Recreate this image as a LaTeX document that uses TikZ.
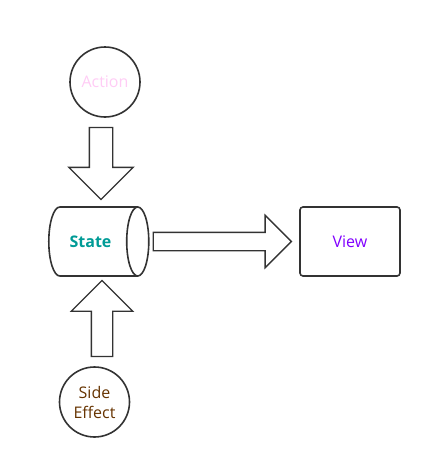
\documentclass[tikz,border=0pt]{standalone}
\usepackage{fontspec}
\setmainfont{Open Sans}
\usepackage{tikz}
\usetikzlibrary{calc,positioning,shapes.geometric,shapes.arrows}

\definecolor{linegray}{HTML}{333333}
\definecolor{actionpink}{HTML}{FFCCF5}
\definecolor{stateteal}{HTML}{009B96}
\definecolor{viewpurple}{HTML}{8000FF}
\definecolor{effectbrown}{HTML}{663300}

\begin{document}
\begin{tikzpicture}[
            x=1pt, y=-1pt,
            every node/.style={font=\fontsize{16}{20}\selectfont},
            circ_node/.style={circle, draw=linegray, line width=1.6pt, minimum size=70pt, inner sep=0pt, align=center},
            store_node/.style={cylinder, draw=linegray, line width=1.6pt, minimum width=69pt, minimum height=100pt, aspect=1.2, shape border rotate=0},
            view_node/.style={rectangle, draw=linegray, line width=1.6pt, rounded corners=3pt, minimum width=100pt, minimum height=69pt},
            block_arrow/.style={single arrow, draw=linegray, line width=1.4pt, anchor=tail, single arrow head extend=#1}
        ]
            \useasboundingbox (0,0) rectangle (432,469);
            % the nodes
            \node[store_node, text=stateteal, font=\fontsize{16}{20}\selectfont\bfseries] (state) at (90.5,241.5) {State};
            \node[circ_node, text=actionpink] (action) at (105,82) {Action};
            \node[view_node, text=viewpurple] (view) at (350,241.5) {View};
            \node[circ_node, text=effectbrown] (effect) at (94.5,402) {Side\\Effect};
            % the block arrows
            \node[block_arrow=20.5pt, inner xsep=11pt, inner ysep=0pt, minimum height=72pt, shape border rotate=270] (a2s)
                at ($(action.south)+(-4,9)$) {};
            \node[block_arrow=17pt, inner ysep=8.5pt, inner xsep=0pt, minimum height=138pt] (s2v)
                at ($(state.east)+(3,0)$) {};
            \node[block_arrow=20pt, inner xsep=10pt, inner ysep=0pt, minimum height=76pt, shape border rotate=90] (e2s)
                at ($(effect.north)+(7.5,-9)$) {};
\end{tikzpicture}
\end{document}
